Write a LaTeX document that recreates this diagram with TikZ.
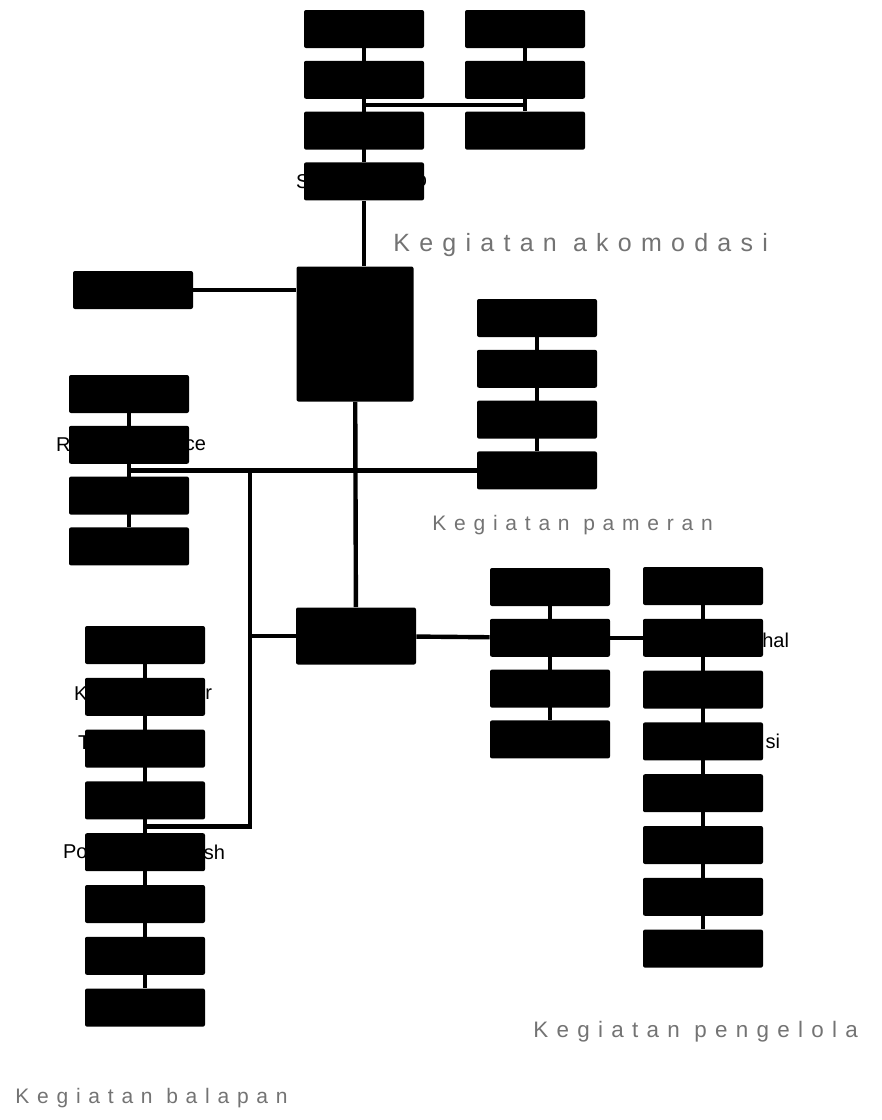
\documentclass[tikz,border=0pt]{standalone}
\usepackage{fontspec}
\setmainfont{Liberation Sans}
\newfontfamily\ketfont[LetterSpace=37]{Liberation Sans}
\usetikzlibrary{positioning,backgrounds,calc}

\begin{document}
\begin{tikzpicture}[
  x=0.5pt, y=-0.5pt,
  node distance=6pt,
  blok/.style={fill=black,draw=none,rounded corners=1pt,minimum width=60pt,minimum height=19pt,inner sep=0pt},
  link/.style={line width=2.2pt},
  frag/.style={inner sep=0pt,font=\fontsize{10pt}{12pt}\selectfont},
  ket/.style={inner sep=0pt,anchor=west,text=black!55,font=\ketfont\fontsize{12.5pt}{15pt}\selectfont}
]
  \useasboundingbox (0,0) rectangle (882,1120);

  % kegiatan akomodasi
  \node[blok] (akoL1) at (364,29) {};
  \node[blok,below=of akoL1] (akoL2) {};
  \node[blok,below=of akoL2] (akoL3) {};
  \node[blok,below=of akoL3] (akoL4) {};
  \node[blok] (akoR1) at (525,29) {};
  \node[blok,below=of akoR1] (akoR2) {};
  \node[blok,below=of akoR2] (akoR3) {};

  % pusat
  \node[blok] (samping) at (133,290) {};
  \node[blok,minimum width=58.5pt,minimum height=67.5pt] (pusat) at (355,334) {};

  % kolom kiri
  \node[blok] (kiri1) at (129,394) {};
  \node[blok,below=of kiri1] (kiri2) {};
  \node[blok,below=of kiri2] (kiri3) {};
  \node[blok,below=of kiri3] (kiri4) {};

  % kegiatan pameran
  \node[blok] (pam1) at (537,318) {};
  \node[blok,below=of pam1] (pam2) {};
  \node[blok,below=of pam2] (pam3) {};
  \node[blok,below=of pam3] (pam4) {};

  \node[blok,minimum height=28.5pt] (simpul) at (356,636) {};

  % kegiatan pengelola
  \node[blok] (pglA1) at (550,587) {};
  \node[blok,below=of pglA1] (pglA2) {};
  \node[blok,below=of pglA2] (pglA3) {};
  \node[blok,below=of pglA3] (pglA4) {};
  \node[blok] (pglB1) at (703,586) {};
  \node[blok,below=6.5pt of pglB1] (pglB2) {};
  \node[blok,below=6.5pt of pglB2] (pglB3) {};
  \node[blok,below=6.5pt of pglB3] (pglB4) {};
  \node[blok,below=6.5pt of pglB4] (pglB5) {};
  \node[blok,below=6.5pt of pglB5] (pglB6) {};
  \node[blok,below=6.5pt of pglB6] (pglB7) {};
  \node[blok,below=6.5pt of pglB7] (pglB8) {};

  % kegiatan balapan
  \node[blok] (bal1) at (145,645) {};
  \node[blok,below=6.5pt of bal1] (bal2) {};
  \node[blok,below=6.5pt of bal2] (bal3) {};
  \node[blok,below=6.5pt of bal3] (bal4) {};
  \node[blok,below=6.5pt of bal4] (bal5) {};
  \node[blok,below=6.5pt of bal5] (bal6) {};
  \node[blok,below=6.5pt of bal6] (bal7) {};
  \node[blok,below=6.5pt of bal7] (bal8) {};

  \begin{scope}[on background layer]
    % sisa teks di balik kotak
    \node[frag,anchor=west] (fS) at ([xshift=-4pt]akoL4.west) {S};
    \node[frag,anchor=east] (fo) at ([xshift=1.5pt]akoL4.east) {o};
    \node[frag,anchor=west] (fR) at ([xshift=-6.5pt]kiri2.west) {R};
    \node[frag,anchor=east] (fce) at ([xshift=8.5pt]kiri2.east) {ce};
    \node[frag,anchor=west] (fK) at ([xshift=-5.5pt,yshift=1.5pt]bal2.west) {K};
    \node[frag,anchor=east] (fr) at ([xshift=3.5pt,yshift=1.5pt]bal2.east) {r};
    \node[frag,anchor=west] (fT) at ([xshift=-3.5pt,yshift=3pt]bal3.west) {T};
    \node[frag,anchor=west] (fPo) at ([xshift=-11pt]bal5.west) {Po};
    \node[frag,anchor=east] (fsh) at ([xshift=10pt]bal5.east) {sh};
    \node[frag,anchor=east] (fhal) at ([xshift=13pt,yshift=-1.5pt]pglB2.east) {hal};
    \node[frag,anchor=east] (fsi) at ([xshift=8.5pt]pglB4.east) {si};

    % garis penghubung
    \draw[link] (akoL1) -- (akoL4);
    \draw[link] (akoL4) -- (akoL4 |- pusat.north);
    \draw[link] (akoR1) -- (akoR3);
    \coordinate (gA) at ($(akoL2.south)!.5!(akoL3.north)$);
    \draw[link] (gA) -- (gA -| akoR3);
    \draw[link] (samping) -- (samping -| pusat.west);
    \draw[link] (pusat) -- (simpul);
    \draw[link] (kiri1) -- (kiri4);
    \draw[link] (pam1) -- (pam4);
    \draw[link] (kiri2 |- pam4) -- (pam4);
    \coordinate (cabang) at (250,0);
    \coordinate (gB) at ($(bal4.south)!.5!(bal5.north)$);
    \draw[link] (cabang |- pam4) -- (cabang |- gB) -- (gB);
    \draw[link] (cabang |- simpul) -- (simpul);
    \draw[link] (bal1) -- (bal8);
    \draw[link] (simpul) -- (pglA2);
    \draw[link] (pglA2) -- (pglB2);
    \draw[link] (pglA1) -- (pglA4);
    \draw[link] (pglB1) -- (pglB8);
  \end{scope}

  % keterangan
  \node[ket] (ketAko) at (393,245) {Kegiatan akomodasi};
  \node[ket,font=\ketfont\fontsize{10.5pt}{13pt}\selectfont] (ketPam) at (432,525) {Kegiatan pameran};
  \node[ket,font=\ketfont\fontsize{11.2pt}{14pt}\selectfont] (ketPgl) at (533,1032) {Kegiatan pengelola};
  \node[ket,font=\ketfont\fontsize{10.5pt}{13pt}\selectfont] (ketBal) at (15,1098) {Kegiatan balapan};
\end{tikzpicture}
\end{document}
